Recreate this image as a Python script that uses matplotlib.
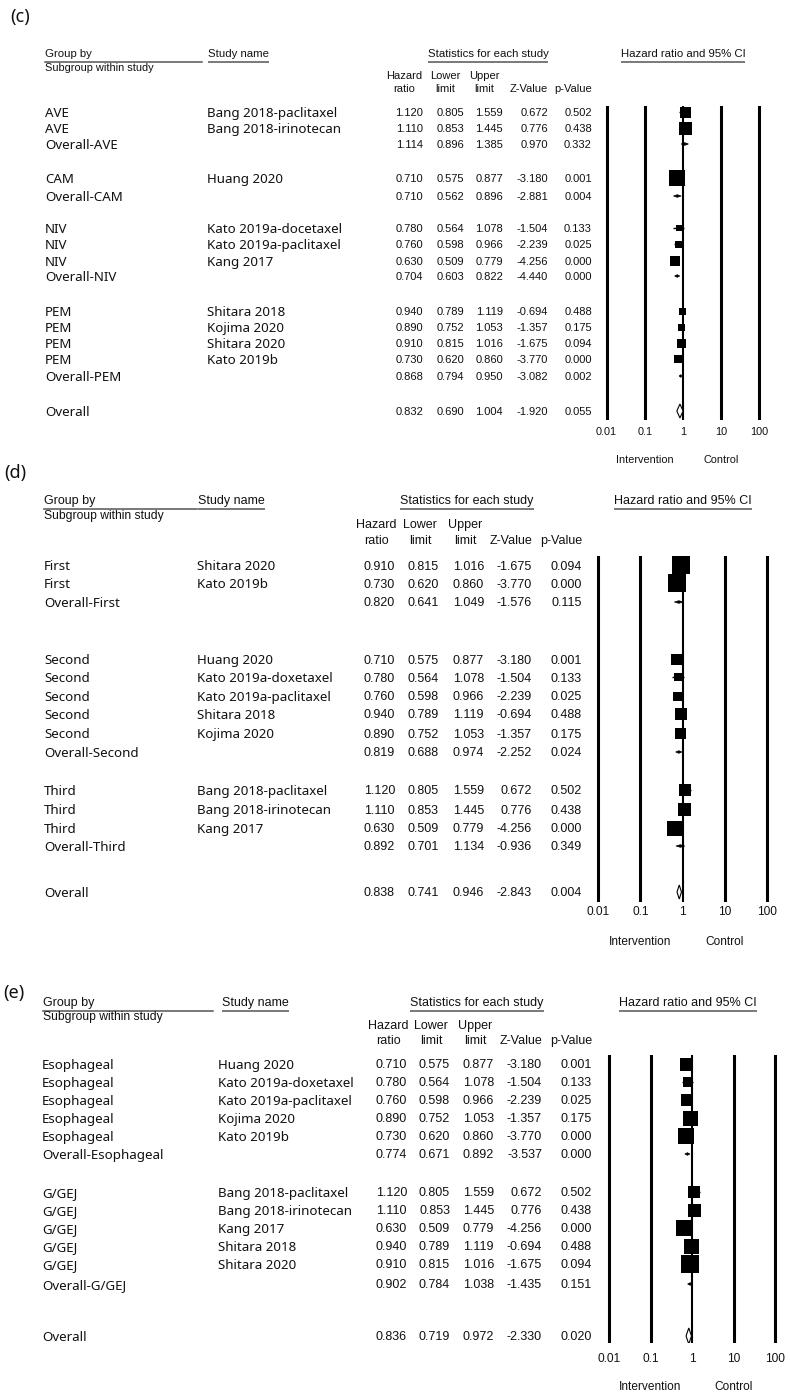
import matplotlib
matplotlib.use("Agg")
import matplotlib.pyplot as plt
from matplotlib.patches import Polygon
from matplotlib.ticker import NullLocator

# ------------------------------------------------------------------ data
# Panel (c): by drug
groups_c = ["AVE", "AVE", "Overall-AVE", "CAM", "Overall-CAM", "NIV", "NIV", "NIV",
            "Overall-NIV", "PEM", "PEM", "PEM", "PEM", "Overall-PEM", "Overall"]
studies_c = ["Bang 2018-paclitaxel", "Bang 2018-irinotecan", "", "Huang 2020", "",
             "Kato 2019a-docetaxel", "Kato 2019a-paclitaxel", "Kang 2017", "",
             "Shitara 2018", "Kojima 2020", "Shitara 2020", "Kato 2019b", "", ""]
hr_c = [1.120, 1.110, 1.114, 0.710, 0.710, 0.780, 0.760, 0.630, 0.704, 0.940, 0.890, 0.910, 0.730, 0.868, 0.832]
lo_c = [0.805, 0.853, 0.896, 0.575, 0.562, 0.564, 0.598, 0.509, 0.603, 0.789, 0.752, 0.815, 0.620, 0.794, 0.690]
up_c = [1.559, 1.445, 1.385, 0.877, 0.896, 1.078, 0.966, 0.779, 0.822, 1.119, 1.053, 1.016, 0.860, 0.950, 1.004]
z_c = [0.672, 0.776, 0.970, -3.180, -2.881, -1.504, -2.239, -4.256, -4.440, -0.694, -1.357, -1.675, -3.770, -3.082, -1.920]
p_c = [0.502, 0.438, 0.332, 0.001, 0.004, 0.133, 0.025, 0.000, 0.000, 0.488, 0.175, 0.094, 0.000, 0.002, 0.055]
# relative study weight; 0 for summary rows
wt_c = [11, 13, 0, 16, 0, 6, 7, 10, 0, 7, 7, 9, 8, 0, 0]

# Panel (d): by line of therapy
groups_d = ["First", "First", "Overall-First", "Second", "Second", "Second", "Second", "Second",
            "Overall-Second", "Third", "Third", "Third", "Overall-Third", "Overall"]
studies_d = ["Shitara 2020", "Kato 2019b", "", "Huang 2020", "Kato 2019a-doxetaxel",
             "Kato 2019a-paclitaxel", "Shitara 2018", "Kojima 2020", "",
             "Bang 2018-paclitaxel", "Bang 2018-irinotecan", "Kang 2017", "", ""]
hr_d = [0.910, 0.730, 0.820, 0.710, 0.780, 0.760, 0.940, 0.890, 0.819, 1.120, 1.110, 0.630, 0.892, 0.838]
lo_d = [0.815, 0.620, 0.641, 0.575, 0.564, 0.598, 0.789, 0.752, 0.688, 0.805, 0.853, 0.509, 0.701, 0.741]
up_d = [1.016, 0.860, 1.049, 0.877, 1.078, 0.966, 1.119, 1.053, 0.974, 1.559, 1.445, 0.779, 1.134, 0.946]
z_d = [-1.675, -3.770, -1.576, -3.180, -1.504, -2.239, -0.694, -1.357, -2.252, 0.672, 0.776, -4.256, -0.936, -2.843]
p_d = [0.094, 0.000, 0.115, 0.001, 0.133, 0.025, 0.488, 0.175, 0.024, 0.502, 0.438, 0.000, 0.349, 0.004]
wt_d = [18, 18, 0, 11, 8, 9, 12, 11, 0, 12, 13, 15, 0, 0]

# Panel (e): by tumour site
groups_e = ["Esophageal", "Esophageal", "Esophageal", "Esophageal", "Esophageal", "Overall-Esophageal",
            "G/GEJ", "G/GEJ", "G/GEJ", "G/GEJ", "G/GEJ", "Overall-G/GEJ", "Overall"]
studies_e = ["Huang 2020", "Kato 2019a-doxetaxel", "Kato 2019a-paclitaxel", "Kojima 2020", "Kato 2019b", "",
             "Bang 2018-paclitaxel", "Bang 2018-irinotecan", "Kang 2017", "Shitara 2018", "Shitara 2020", "", ""]
hr_e = [0.710, 0.780, 0.760, 0.890, 0.730, 0.774, 1.120, 1.110, 0.630, 0.940, 0.910, 0.902, 0.836]
lo_e = [0.575, 0.564, 0.598, 0.752, 0.620, 0.671, 0.805, 0.853, 0.509, 0.789, 0.815, 0.784, 0.719]
up_e = [0.877, 1.078, 0.966, 1.053, 0.860, 0.892, 1.559, 1.445, 0.779, 1.119, 1.016, 1.038, 0.972]
z_e = [-3.180, -1.504, -2.239, -1.357, -3.770, -3.537, 0.672, 0.776, -4.256, -0.694, -1.675, -1.435, -2.330]
p_e = [0.001, 0.133, 0.025, 0.175, 0.000, 0.000, 0.502, 0.438, 0.000, 0.488, 0.094, 0.151, 0.020]
wt_e = [13, 10, 12, 15, 16, 0, 12, 13, 16, 15, 18, 0, 0]

tick_vals = [0.01, 0.1, 1, 10, 100]
tick_labels = ["0.01", "0.1", "1", "10", "100"]

# ------------------------------------------------------------------ layout (pixels)
LAY_C = dict(label="(c)", lab_xy=(10, 17), fs=8.2, numfs=8.0, tickfs=7.8,
             group_xy=(45, 54), group_ul_end=202, ul_dy=8, sub_dy=14, study_hx=208,
             stats_cx=488, title_cx=683, head_y=(76, 89), cols=[423, 464, 503, 548, 592],
             grp_x=45, std_x=207,
             rows=[112, 128, 144, 178, 196, 228, 244, 261, 276, 311, 327, 343, 359, 376, 411],
             x1=683, decade=38.2, line_y=(106, 420), tick_y=433, int_y=460, dia_h=7)
LAY_D = dict(label="(d)", lab_xy=(4, 473), fs=9.0, numfs=9.0, tickfs=8.6,
             group_xy=(44, 501), group_ul_end=197, ul_dy=8, sub_dy=15, study_hx=198,
             stats_cx=467, title_cx=683, head_y=(525, 541), cols=[395, 439, 484, 532, 582],
             grp_x=44, std_x=197,
             rows=[565, 583, 602, 659, 677, 696, 714, 733, 752, 790, 809, 828, 846, 892],
             x1=682.5, decade=42.2, line_y=(556, 902), tick_y=913, int_y=942, dia_h=7)
LAY_E = dict(label="(e)", lab_xy=(3, 993), fs=9.0, numfs=9.0, tickfs=8.6,
             group_xy=(43, 1003), group_ul_end=213, ul_dy=8, sub_dy=14, study_hx=222,
             stats_cx=477, title_cx=688, head_y=(1026, 1041), cols=[407, 450, 494, 542, 592],
             grp_x=42, std_x=218,
             rows=[1064, 1082, 1100, 1118, 1136, 1154, 1192, 1210, 1228, 1246, 1264, 1284, 1336],
             x1=692, decade=41.5, line_y=(1055, 1343), tick_y=1360, int_y=1387, dia_h=8)

W, H = 790, 1398
NUM_FONT = ["Liberation Sans", "DejaVu Sans"]
LAB_FONT = ["Noto Sans", "DejaVu Sans"]
TXT = "#111111"

fig = plt.figure(figsize=(W / 100, H / 100), dpi=100)
fig.patch.set_facecolor("white")
ax_t = fig.add_axes([0, 0, 1, 1])
ax_t.set_xlim(0, W)
ax_t.set_ylim(H, 0)
ax_t.axis("off")
renderer = fig.canvas.get_renderer()


def underlined(x, y, s, fs, ha, dy):
    t = ax_t.text(x, y, s, fontsize=fs, family=NUM_FONT, ha=ha, va="center", color=TXT)
    bb = t.get_window_extent(renderer)
    ax_t.plot([bb.x0, bb.x1], [y + dy, y + dy], color="#555555", lw=1.1, solid_capstyle="butt")


def panel(L, groups, studies, hr, lo, up, z, p, wt):
    fs, nfs = L["fs"], L["numfs"]
    ax_t.text(*L["lab_xy"], L["label"], fontsize=13, family=LAB_FONT, ha="left", va="center", color=TXT)
    gx, gy = L["group_xy"]
    ax_t.text(gx, gy, "Group by", fontsize=fs, family=NUM_FONT, ha="left", va="center", color=TXT)
    ax_t.plot([gx, L["group_ul_end"]], [gy + L["ul_dy"]] * 2, color="#555555", lw=1.1)
    ax_t.text(gx, gy + L["sub_dy"], "Subgroup within study", fontsize=fs * 0.97, family=NUM_FONT,
              ha="left", va="center", color=TXT)
    underlined(L["study_hx"], gy, "Study name", fs, "left", L["ul_dy"])
    underlined(L["stats_cx"], gy, "Statistics for each study", fs, "center", L["ul_dy"])
    underlined(L["title_cx"], gy, "Hazard ratio and 95% CI", fs, "center", L["ul_dy"])

    cols = L["cols"]
    hy1, hy2 = L["head_y"]
    for c, (a, b) in zip(cols[:3], [("Hazard", "ratio"), ("Lower", "limit"), ("Upper", "limit")]):
        ax_t.text(c - 19, hy1, a, fontsize=nfs, family=NUM_FONT, ha="center", va="center", color=TXT)
        ax_t.text(c - 19, hy2, b, fontsize=nfs, family=NUM_FONT, ha="center", va="center", color=TXT)
    ax_t.text(cols[3], hy2, "Z-Value", fontsize=nfs, family=NUM_FONT, ha="right", va="center", color=TXT)
    ax_t.text(cols[4], hy2, "p-Value", fontsize=nfs, family=NUM_FONT, ha="right", va="center", color=TXT)

    rows = L["rows"]
    for i, y in enumerate(rows):
        ax_t.text(L["grp_x"], y, groups[i], fontsize=9.6, family=LAB_FONT, ha="left",
                  va="center_baseline", color=TXT)
        if studies[i]:
            ax_t.text(L["std_x"], y, studies[i], fontsize=9.6, family=LAB_FONT, ha="left",
                      va="center_baseline", color=TXT)
        for c, v in zip(cols, [hr[i], lo[i], up[i], z[i], p[i]]):
            ax_t.text(c, y, f"{v:.3f}", fontsize=nfs, family=NUM_FONT, ha="right",
                      va="center_baseline", color=TXT)

    # forest plot
    x1, dec = L["x1"], L["decade"]
    top, bot = L["line_y"]
    left = x1 - 2.5 * dec
    ax = fig.add_axes([left / W, 1 - bot / H, 5 * dec / W, (bot - top) / H])
    ax.set_xscale("log")
    ax.set_xlim(10 ** -2.5, 10 ** 2.5)
    ax.set_ylim(bot, top)
    ax.patch.set_alpha(0)
    for s in ax.spines.values():
        s.set_visible(False)
    ax.set_yticks([])
    ax.set_xticks(tick_vals)
    ax.set_xticklabels(tick_labels, fontsize=L["tickfs"], family=NUM_FONT, color=TXT)
    ax.xaxis.set_minor_locator(NullLocator())
    fs_px = L["tickfs"] / 0.72
    ax.tick_params(axis="x", length=0, pad=(L["tick_y"] - bot - fs_px * 0.55) * 0.72)
    for v in tick_vals:
        ax.axvline(v, color="black", lw=1.5 if v == 1 else 2.2, zorder=1)

    for i, y in enumerate(rows):
        g = groups[i]
        if g == "Overall":
            h = L["dia_h"]
            ax.add_patch(Polygon([(lo[i], y), (hr[i], y - h), (up[i], y), (hr[i], y + h)],
                                 closed=True, facecolor="white", edgecolor="black", lw=0.8, zorder=3))
        elif g.startswith("Overall-"):
            ax.add_patch(Polygon([(lo[i], y), (hr[i], y - 1.3), (up[i], y), (hr[i], y + 1.3)],
                                 closed=True, facecolor="black", edgecolor="black", lw=0.5, zorder=3))
        else:
            ax.hlines(y, lo[i], up[i], color="black", lw=1.0, zorder=2)
            ax.scatter([hr[i]], [y], s=(wt[i] * 0.72) ** 2, marker="s", color="black",
                       linewidths=0, zorder=3)
    ax.text(0.1, L["int_y"], "Intervention", fontsize=L["tickfs"], family=NUM_FONT,
            ha="center", va="center", clip_on=False, color=TXT)
    ax.text(10, L["int_y"], "Control", fontsize=L["tickfs"], family=NUM_FONT,
            ha="center", va="center", clip_on=False, color=TXT)


panel(LAY_C, groups_c, studies_c, hr_c, lo_c, up_c, z_c, p_c, wt_c)
panel(LAY_D, groups_d, studies_d, hr_d, lo_d, up_d, z_d, p_d, wt_d)
panel(LAY_E, groups_e, studies_e, hr_e, lo_e, up_e, z_e, p_e, wt_e)

fig.savefig("out.png", dpi=100, facecolor="white")
